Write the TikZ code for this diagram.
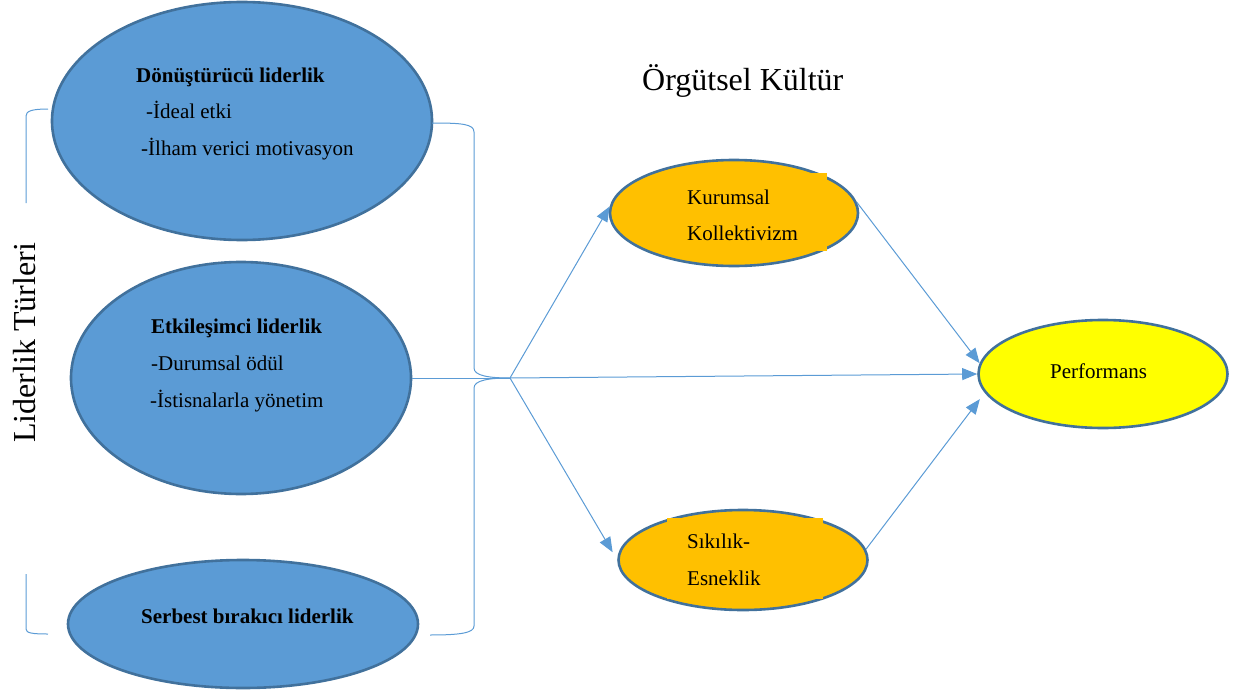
\documentclass[tikz,border=0pt]{standalone}
\usepackage{fontspec}
\setmainfont{Liberation Serif}
\usetikzlibrary{shapes.geometric,arrows.meta}
\definecolor{bfill}{HTML}{5B9BD5}
\definecolor{bdraw}{HTML}{41719C}
\definecolor{ofill}{HTML}{FFC000}
\definecolor{yfill}{HTML}{FFFF00}
\definecolor{lcol}{HTML}{5B9BD5}
\begin{document}
\begin{tikzpicture}[x=1pt,y=-1pt,
  ell/.style={ellipse, draw=bdraw, line width=2.6pt, inner sep=0pt},
  txt/.style={anchor=base west, inner sep=0pt, font=\fontsize{21}{25}\selectfont},
  btxt/.style={txt, font=\fontsize{21}{25}\selectfont\bfseries},
  bigtxt/.style={anchor=base west, inner sep=0pt, font=\fontsize{32}{38}\selectfont},
  conn/.style={draw=lcol, line width=1pt},
  arr/.style={conn, -{Triangle[length=15pt,width=12pt]}}
]
\useasboundingbox (0,0) rectangle (1253,693);

% ellipses
\node[ell, fill=bfill, minimum width=380pt, minimum height=238pt] (d) at (242,121) {};
\node[ell, fill=bfill, minimum width=340pt, minimum height=232pt] (e) at (241,378) {};
\node[ell, fill=bfill, minimum width=350pt, minimum height=128pt] (s) at (243,624) {};
\node[ell, fill=ofill, minimum width=248pt, minimum height=106pt] (k) at (734,213) {};
\node[ell, fill=ofill, minimum width=249pt, minimum height=100pt] (sk) at (743,560) {};
\node[ell, fill=yfill, minimum width=249pt, minimum height=108pt] (p) at (1103,374) {};

% text-box patches over the orange outlines
\fill[ofill] (667,173) rectangle (827,251);
\fill[ofill] (667,518) rectangle (823,599);

% texts
\node[btxt] (d1) at (136,82) {Dönüştürücü liderlik};
\node[txt] (d2) at (146,118) {-İdeal etki};
\node[txt] (d3) at (141,155) {-İlham verici motivasyon};
\node[btxt] (e1) at (151,333) {Etkileşimci liderlik};
\node[txt] (e2) at (151,370) {-Durumsal ödül};
\node[txt] (e3) at (150,407) {-İstisnalarla yönetim};
\node[btxt] (s1) at (141,623) {Serbest bırakıcı liderlik};
\node[txt] (k1) at (687,204) {Kurumsal};
\node[txt] (k2) at (687,240) {Kollektivizm};
\node[txt] (sk1) at (687,548) {Sıkılık-};
\node[txt] (sk2) at (687,585) {Esneklik};
\node[txt] (p1) at (1050,378) {Performans};
\node[bigtxt] (title) at (642,90) {Örgütsel Kültür};
\node[bigtxt, rotate=90] (lt) at (35,443) {Liderlik Türleri};

% left bracket
\draw[conn] (48,109) .. controls (32,109) and (26,111) .. (26,116) -- (26,203);
\draw[conn] (26,574) -- (26,629) .. controls (26,633) and (32,634) .. (48,634);

% right brace
\coordinate (tip) at (510,378);
\draw[conn] (432,123) .. controls (462,123) and (474,124) .. (474,132) -- (474,368)
  .. controls (474,376) and (490,378) .. (tip);
\draw[conn] (tip) .. controls (490,378) and (474,380) .. (474,388) -- (474,626)
  .. controls (474,633) and (460,635) .. (430,635);

% connectors
\draw[conn] (e.east) -- (tip);
\draw[arr] (tip) -- (k.177);
\draw[arr, shorten >=9pt] (tip) -- (sk.west);
\draw[arr] (tip) -- (p.west);
\draw[arr] (k.5) -- (p.175);
\draw[arr, shorten >=8pt] (sk.5) -- (p.189);
\end{tikzpicture}
\end{document}
